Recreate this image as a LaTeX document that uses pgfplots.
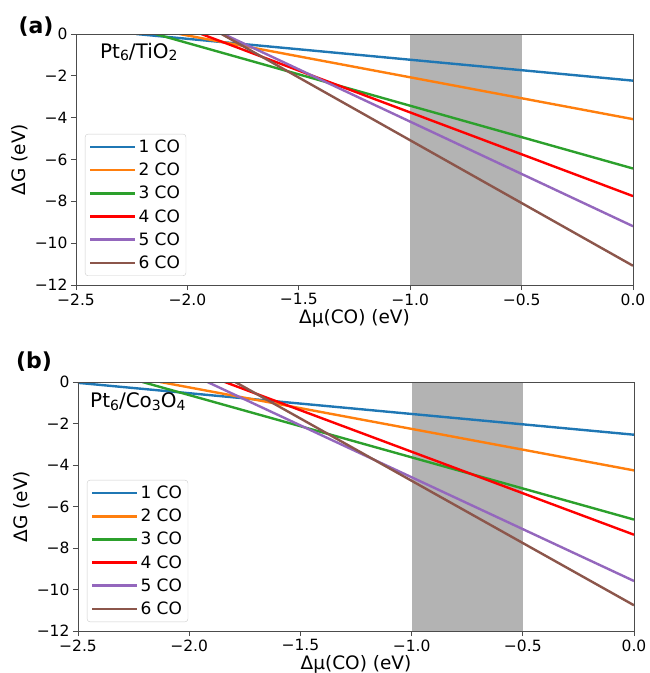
\documentclass[border=0pt]{standalone}
\usepackage{pgfplots}
\pgfplotsset{compat=1.18}
\usepackage{fontspec}
\setmainfont{DejaVu Sans}
\definecolor{c1}{HTML}{1F77B4}
\definecolor{c2}{HTML}{FF7F0E}
\definecolor{c3}{HTML}{2CA02C}
\definecolor{c4}{HTML}{FF0000}
\definecolor{c5}{HTML}{9467BD}
\definecolor{c6}{HTML}{8C564B}
\definecolor{band}{HTML}{B3B3B3}
\newcommand\sub[1]{\raisebox{-2.5pt}{\fontsize{14}{14}\selectfont #1}}
\begin{document}
\begin{tikzpicture}
\useasboundingbox (0pt,0pt) rectangle (649pt,-673pt);
\pgfplotsset{
  panel/.style={
    scale only axis,
    xmin=-2.5, xmax=0, ymin=-12, ymax=0,
    xtick={-2.5,-2,-1.5,-1,-0.5,0},
    xticklabels={−2.5,−2.0,−1.5,−1.0,−0.5,0.0},
    ytick={-12,-10,-8,-6,-4,-2,0},
    yticklabels={−12,−10,−8,−6,−4,−2,0},
    tick label style={font=\fontsize{15.5}{18}\selectfont},
    label style={font=\fontsize{18.5}{22}\selectfont},
    xlabel={Δμ(CO) (eV)},
    ylabel={ΔG (eV)},
    xlabel style={yshift=3pt},
    axis line style={black!70, line width=0.8pt},
    tick style={black!70, line width=0.8pt},
    tick align=outside, major tick length=5pt,
    xtick pos=bottom, ytick pos=left,
    axis on top,
    clip mode=individual,
    legend cell align=left,
    legend style={at={(0.016,0.036)}, anchor=south west, draw=black!20,
      rounded corners=3pt, font=\fontsize{17}{20}\selectfont, row sep=5pt,
      inner xsep=4pt, inner ysep=4pt},
    legend image code/.code={\path (0pt,0pt) -- (45pt,0pt);\draw[##1,line width=2.4pt] (0pt,0pt) -- (37pt,0pt);},
    every axis plot/.append style={line width=2.4pt},
  }
}
% Panel (a)
\begin{axis}[panel, at={(76pt,-285pt)}, anchor=south west, width=557pt, height=251pt]
\addplot[fill=band, draw=none, forget plot, line width=0pt] coordinates {(-1,-12) (-1,0) (-0.5,0) (-0.5,-12)} -- cycle;
\addplot[c1] coordinates {(-2.23,0) (0,-2.23)};
\addplot[c2] coordinates {(-2.035,0) (0,-4.07)};
\addplot[c3] coordinates {(-2.143,0) (0,-6.43)};
\addplot[c4] coordinates {(-1.9375,0) (0,-7.75)};
\addplot[c5] coordinates {(-1.838,0) (0,-9.19)};
\addplot[c6] coordinates {(-1.847,0) (0,-11.08)};
\legend{1 CO,2 CO,3 CO,4 CO,5 CO,6 CO}
\node[anchor=base west, inner sep=0pt, font=\fontsize{20}{24}\selectfont] at (rel axis cs:0.043,0.904) {Pt\sub{6}/TiO\sub{2}};
\end{axis}
% Panel (b)
\begin{axis}[panel, at={(78pt,-631pt)}, anchor=south west, width=556pt, height=249pt]
\addplot[fill=band, draw=none, forget plot, line width=0pt] coordinates {(-1,-12) (-1,0) (-0.5,0) (-0.5,-12)} -- cycle;
\addplot[c1] coordinates {(-2.5,-0.04) (0,-2.54)};
\addplot[c2] coordinates {(-2.13,0) (0,-4.26)};
\addplot[c3] coordinates {(-2.21,0) (0,-6.63)};
\addplot[c4] coordinates {(-1.84,0) (0,-7.36)};
\addplot[c5] coordinates {(-1.918,0) (0,-9.59)};
\addplot[c6] coordinates {(-1.793,0) (0,-10.76)};
\legend{1 CO,2 CO,3 CO,4 CO,5 CO,6 CO}
\node[anchor=base west, inner sep=0pt, font=\fontsize{20}{24}\selectfont] at (rel axis cs:0.0216,0.896) {Pt\sub{6}/Co\sub{3}O\sub{4}};
\end{axis}
\node[font=\bfseries\fontsize{22}{26}\selectfont] at (36pt,-27pt) {(a)};
\node[font=\bfseries\fontsize{22}{26}\selectfont] at (34pt,-362pt) {(b)};
\end{tikzpicture}
\end{document}
